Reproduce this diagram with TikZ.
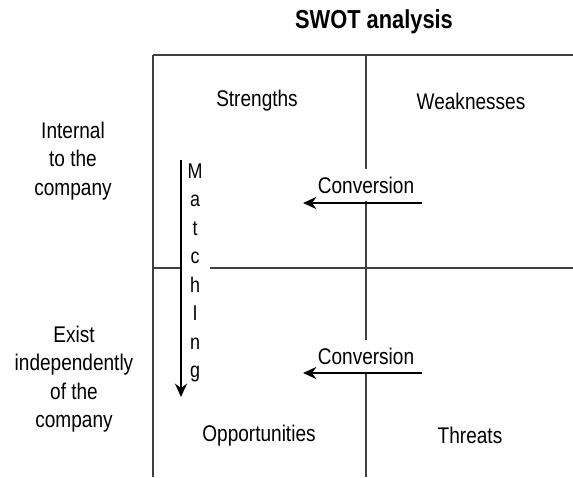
\documentclass[tikz,border=0pt]{standalone}
\usepackage{fontspec}
\setmainfont{Liberation Sans}[FakeStretch=0.84]
\usetikzlibrary{arrows.meta, positioning}

\begin{document}
\begin{tikzpicture}[
      x=0.75pt, y=-0.75pt,
      quad/.style={font=\fontsize{17}{19}\selectfont},
      side/.style={align=center, font=\fontsize{17}{21.4}\selectfont},
      grid/.style={draw=black!75, line width=0.8pt},
      conv/.style={fill=white, inner xsep=2pt, inner ysep=6pt, font=\fontsize{17}{19}\selectfont},
      letters/.style={fill=white, align=center, inner sep=0pt, minimum width=22.5pt, font=\fontsize{16}{21.4}\selectfont},
      arr/.style={-{Stealth[length=10pt, width=9pt]}, line width=1.5pt}
    ]
      \useasboundingbox (0,0) rectangle (573,477);

      % Title
      \node[font=\bfseries\fontsize{19.5}{22}\selectfont] (title) at (374,22) {SWOT analysis};

      % Grid corners
      \coordinate (tl) at (153,55);
      \coordinate (tm) at (366,55);
      \coordinate (tr) at (573,55);
      \coordinate (ml) at (153,268);
      \coordinate (mr) at (573,268);
      \coordinate (bl) at (153,477);
      \coordinate (bm) at (366,477);

      % Grid lines
      \draw[grid] (tl) -- (tr);
      \draw[grid] (tl) -- (bl);
      \draw[grid] (tm) -- (bm);
      \draw[grid] (ml) -- (mr);

      % Side labels
      \node[side] (internal) at (73,161) {Internal\\to the\\company};
      \node[side] (external) at (74,379) {Exist\\independently\\of the\\company};

      % Quadrants
      \node[quad] (str) at (257,101) {Strengths};
      \node[quad] (weak) at (471,101) {Weaknesses};
      \node[quad] (opp) at (259,436) {Opportunities};
      \node[quad] (thr) at (470,435) {Threats};

      % Conversion labels
      \node[conv] (conv1) at (366,185) {Conversion};
      \node[conv] (conv2) at (366,356) {Conversion};

      % Matching label
      \node[letters] (match) at (195,273) {M\\a\\t\\c\\h\\I\\n\\g};

      % Arrows
      \coordinate (c1s) at (422,203);
      \coordinate (c1e) at (303,203);
      \coordinate (c2s) at (422,373);
      \coordinate (c2e) at (303,373);
      \coordinate (m1s) at (181,160);
      \coordinate (m1e) at (181,397);
      \draw[arr] (c1s) -- (c1e);
      \draw[arr] (c2s) -- (c2e);
      \draw[arr] (m1s) -- (m1e);
    \end{tikzpicture}
\end{document}
